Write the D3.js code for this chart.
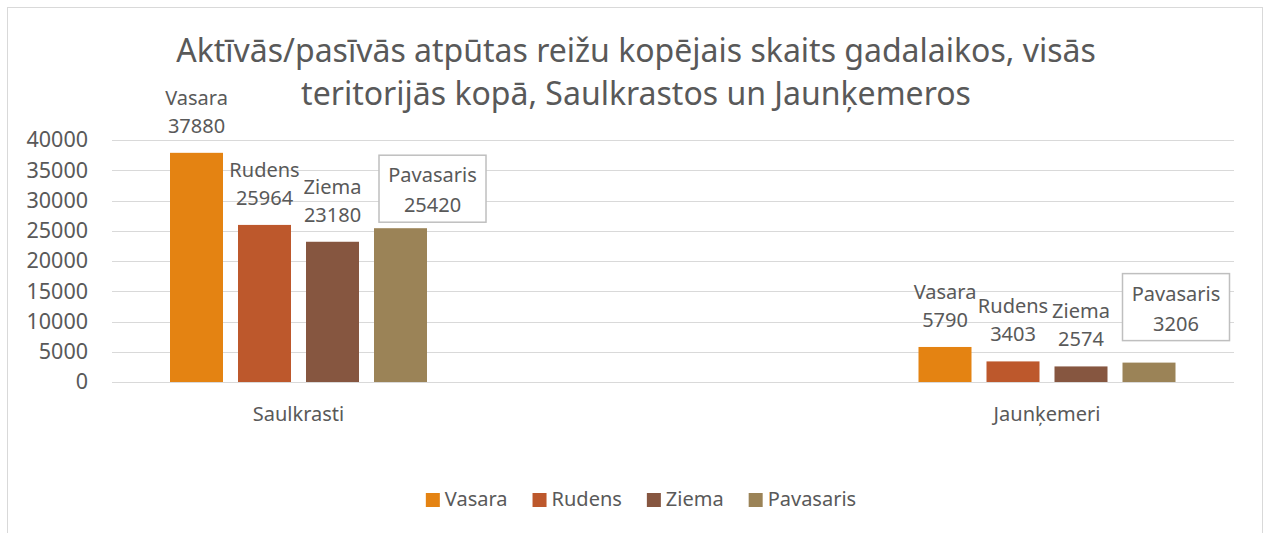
<!doctype html>
<html>
<head>
<meta charset="utf-8">
<style>
  body { margin: 0; background: white; }
  svg { font-family: 'Noto Sans', sans-serif; }
  .grid line { stroke: #d9d9d9; stroke-width: 1px; }
  text { fill: #595959; }
</style>
<script src="https://d3js.org/d3.v7.min.js"></script>
</head>
<body>
<svg width="1266" height="533"></svg>
<script>
// data
var categories = ["Saulkrasti", "Jaunķemeri"];
var seasons = ["Vasara", "Rudens", "Ziema", "Pavasaris"];
var saulkrasti = [37880, 25964, 23180, 25420];
var jaunkemeri = [5790, 3403, 2574, 3206];
var yTicks = [0, 5000, 10000, 15000, 20000, 25000, 30000, 35000, 40000];
var titleLines = ["Aktīvās/pasīvās atpūtas reižu kopējais skaits gadalaikos, visās",
                  "teritorijās kopā, Saulkrastos un Jaunķemeros"];
var colors = ["#e48312", "#bd582c", "#865640", "#9b8357"];

var values = [saulkrasti, jaunkemeri];
var fs = "20px";

var svg = d3.select("svg");

// chart frame
svg.append("rect")
  .attr("x", 7.5).attr("y", 7.5)
  .attr("width", 1255).attr("height", 540)
  .attr("fill", "white").attr("stroke", "#d9d9d9");

// title
svg.append("g").selectAll("text")
  .data(titleLines)
  .join("text")
  .attr("x", 636)
  .attr("y", function (d, i) { return 62 + i * 43; })
  .attr("text-anchor", "middle")
  .attr("font-size", "32px")
  .text(function (d) { return d; });

var y = d3.scaleLinear().domain([0, 40000]).range([382, 140]);
var x0 = d3.scalePoint().domain(categories).range([298.5, 1047]);
var x1 = d3.scaleBand().domain(seasons).range([-128.5, 128.5]).paddingInner(15 / 68);
var color = d3.scaleOrdinal().domain(seasons).range(colors);

// gridlines
svg.append("g").attr("class", "grid")
  .selectAll("line")
  .data(yTicks)
  .join("line")
  .attr("x1", 112).attr("x2", 1234)
  .attr("y1", function (d) { return Math.round(y(d)) + 0.5; })
  .attr("y2", function (d) { return Math.round(y(d)) + 0.5; });

// y axis labels
var yAxis = svg.append("g")
  .attr("transform", "translate(100,0)")
  .call(d3.axisLeft(y).tickValues(yTicks).tickSize(0).tickPadding(12).tickFormat(d3.format("d")));
yAxis.select(".domain").remove();
yAxis.selectAll("text").attr("font-size", "21.5px").attr("fill", "#595959")
  .attr("font-family", "'Noto Sans', sans-serif");

// category labels
svg.append("g").selectAll("text")
  .data(categories)
  .join("text")
  .attr("x", function (d) { return x0(d); })
  .attr("y", 421)
  .attr("text-anchor", "middle")
  .attr("font-size", fs)
  .text(function (d) { return d; });

// pavasaris boxes were moved by hand in the original
var boxShift = [{ dx: 32, dy: -6 }, { dx: 27, dy: -22 }];

categories.forEach(function (cat, ci) {
  var g = svg.append("g").attr("transform", "translate(" + x0(cat) + ",0)");
  var rows = seasons.map(function (s, i) { return { s: s, v: values[ci][i] }; });

  g.selectAll("rect")
    .data(rows)
    .join("rect")
    .attr("x", function (d) { return x1(d.s); })
    .attr("width", x1.bandwidth())
    .attr("y", function (d) { return y(d.v); })
    .attr("height", function (d) { return y(0) - y(d.v); })
    .attr("fill", function (d) { return color(d.s); });

  // plain labels
  rows.slice(0, 3).forEach(function (d) {
    var cx = x1(d.s) + x1.bandwidth() / 2;
    g.append("text").attr("x", cx).attr("y", y(d.v) - 48)
      .attr("text-anchor", "middle").attr("font-size", fs).text(d.s);
    g.append("text").attr("x", cx).attr("y", y(d.v) - 20)
      .attr("text-anchor", "middle").attr("font-size", fs).text(d.v);
  });

  // boxed label
  var last = rows[3];
  var bcx = x1(last.s) + x1.bandwidth() / 2 + boxShift[ci].dx;
  var bBottom = y(last.v) + boxShift[ci].dy;
  var bw = 107, bh = 67;
  g.append("rect")
    .attr("x", bcx - bw / 2).attr("y", bBottom - bh)
    .attr("width", bw).attr("height", bh)
    .attr("fill", "white").attr("stroke", "#bfbfbf").attr("stroke-width", 1.5);
  g.append("text").attr("x", bcx).attr("y", bBottom - bh + 27)
    .attr("text-anchor", "middle").attr("font-size", fs).text(last.s);
  g.append("text").attr("x", bcx).attr("y", bBottom - bh + 57)
    .attr("text-anchor", "middle").attr("font-size", fs).text(last.v);
});

// legend
var legend = svg.append("g");
var items = legend.selectAll("g")
  .data(seasons)
  .join("g");
items.append("rect")
  .attr("width", 14).attr("height", 14)
  .attr("y", 493)
  .attr("fill", function (d) { return color(d); });
items.append("text")
  .attr("x", 19).attr("y", 506)
  .attr("font-size", fs)
  .text(function (d) { return d; });
var pos = 0;
items.each(function () {
  d3.select(this).attr("transform", "translate(" + pos + ",0)");
  pos += this.getBBox().width + 25;
});
var total = pos - 25;
legend.attr("transform", "translate(" + (641 - total / 2) + ",0)");
</script>
</body>
</html>
